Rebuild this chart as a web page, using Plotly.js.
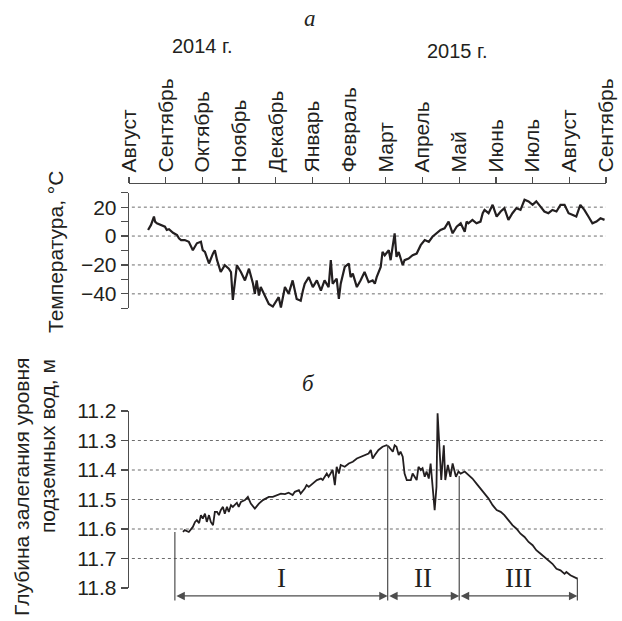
<!DOCTYPE html>
<html>
<head>
<meta charset="utf-8">
<script src="https://cdn.plot.ly/plotly-3.0.1.min.js"></script>
<style>html,body{margin:0;padding:0;background:#fff;}#chart{width:622px;height:621px;}</style>
</head>
<body>
<div id="chart"></div>
<script>
// ---- data ----
const monthLabels = ['Август','Сентябрь','Октябрь','Ноябрь','Декабрь','Январь','Февраль','Март','Апрель','Май','Июнь','Июль','Август','Сентябрь'];
const yearLabels = ['2014 г.', '2015 г.'];
const tempTickVals = [-50,-40,-30,-20,-10,0,10,20,30];
const tempTickText = ['','−40','','−20','','0','','20',''];
const tempGrid = [-40,-20,0,20];
const levelTickVals = [11.2,11.3,11.4,11.5,11.6,11.7,11.8];
const levelGrid = [11.3,11.4,11.5,11.6,11.7];

// time in months since 1 Aug 2014
const tempMonth = [0.52,0.60,0.68,0.71,0.76,0.87,0.98,1.03,1.09,1.20,1.31,1.36,1.42,1.52,1.63,1.74,1.85,1.96,2.01,2.07,
2.18,2.29,2.34,2.40,2.50,2.61,2.72,2.78,2.83,2.94,3.05,3.16,3.27,3.38,3.43,3.48,3.54,3.59,3.70,3.81,
3.92,4.03,4.08,4.14,4.25,4.35,4.46,4.57,4.68,4.74,4.79,4.90,5.01,5.12,5.23,5.33,5.44,5.50,5.55,5.66,
5.72,5.77,5.88,5.99,6.04,6.10,6.21,6.31,6.42,6.53,6.64,6.70,6.75,6.86,6.91,6.97,7.08,7.13,7.24,7.29,
7.35,7.46,7.51,7.62,7.73,7.84,7.95,8.06,8.17,8.27,8.38,8.49,8.60,8.71,8.82,8.93,9.04,9.15,9.20,9.25,
9.36,9.47,9.58,9.64,9.69,9.80,9.91,10.02,10.13,10.23,10.34,10.45,10.56,10.67,10.78,10.89,11.00,11.10,11.21,11.32,
11.43,11.54,11.65,11.76,11.87,11.98,12.08,12.19,12.30,12.41,12.52,12.63,12.74,12.85,12.96];
const tempValue = [4.2,7.7,13.5,10,8.8,7.7,6.5,4.2,4.7,2.3,0.7,-1.6,-2.8,-2.8,-4,-9.8,-5,-4,-9.8,-11,
-19,-12,-9.8,-16.7,-24.9,-20.2,-22.6,-24.9,-44.2,-20.2,-24.9,-30.7,-22.6,-33,-40,-30.7,-41.2,-35.3,-41.2,-47,
-48.8,-44.7,-42.3,-49.4,-35.3,-40,-30.7,-43.5,-44.7,-37.7,-33,-28.4,-35.3,-30.7,-37.7,-30.7,-35.3,-16.7,-33,-29.5,
-43.5,-33,-21.4,-19,-28.4,-26,-35.3,-30.7,-24.9,-31.9,-30.7,-33,-28.4,-21.4,-11,-13.3,-9.8,-16.7,1.9,-14.4,
-11,-20.2,-16.7,-15.6,-13.3,-12.1,-6.3,-2.8,-4,-0.5,1.9,4.2,5.3,10,1.9,6.5,8.8,3,10,8.8,
11.2,8.8,10,15.8,18.1,15.8,21.6,13.5,17,19.3,11.2,15.8,19.3,18.1,25.1,24,21.6,24,20.5,17,
15.8,18.1,17,21.6,21.6,15.8,14.7,13.5,21.6,18.1,13.5,8.8,10,12.3,11.2];

const levelMonth = [1.47,1.52,1.63,1.74,1.80,1.85,1.91,1.96,2.01,2.07,2.12,2.18,2.23,2.29,2.34,2.40,2.45,2.50,2.56,2.61,
2.67,2.72,2.78,2.83,2.94,2.99,3.05,3.16,3.24,3.32,3.43,3.54,3.65,3.81,3.92,4.03,4.14,4.25,4.35,4.46,
4.52,4.63,4.68,4.79,4.84,4.90,5.01,5.12,5.23,5.28,5.39,5.44,5.55,5.61,5.66,5.72,5.77,5.88,5.99,6.10,
6.21,6.31,6.42,6.53,6.59,6.64,6.70,6.80,6.91,7.02,7.08,7.19,7.24,7.29,7.35,7.40,7.46,7.51,7.57,7.68,
7.73,7.79,7.84,7.89,7.95,8.00,8.06,8.11,8.17,8.22,8.27,8.33,8.38,8.41,8.46,8.51,8.58,8.62,8.69,8.76,
8.82,8.91,8.98,9.04,9.15,9.25,9.36,9.47,9.58,9.69,9.80,9.91,10.02,10.13,10.23,10.34,10.45,10.56,10.67,10.78,
10.89,11.00,11.10,11.21,11.32,11.43,11.54,11.65,11.76,11.87,11.92,12.03,12.16,12.22];
const levelValue = [11.610,11.604,11.610,11.593,11.576,11.570,11.580,11.553,11.565,11.548,11.576,11.553,11.576,11.587,11.542,11.542,11.553,11.536,11.525,11.548,
11.525,11.542,11.519,11.525,11.511,11.525,11.508,11.502,11.491,11.514,11.531,11.514,11.502,11.491,11.491,11.485,11.480,11.482,11.477,11.485,
11.474,11.468,11.480,11.463,11.451,11.457,11.446,11.434,11.429,11.434,11.412,11.423,11.400,11.451,11.389,11.412,11.383,11.389,11.378,11.372,
11.361,11.355,11.349,11.344,11.332,11.361,11.349,11.332,11.321,11.316,11.321,11.338,11.316,11.321,11.349,11.338,11.355,11.412,11.434,11.434,
11.412,11.423,11.434,11.389,11.400,11.394,11.423,11.405,11.429,11.378,11.457,11.536,11.457,11.208,11.321,11.434,11.316,11.434,11.383,11.423,
11.378,11.423,11.405,11.412,11.405,11.417,11.429,11.446,11.463,11.480,11.497,11.519,11.536,11.542,11.553,11.570,11.587,11.599,11.616,11.627,
11.644,11.655,11.672,11.683,11.695,11.706,11.718,11.735,11.740,11.752,11.746,11.757,11.763,11.768];

// periods (bottom panel)
const periodBounds = [1.25, 7.05, 9.0, 12.22];
const periodTop = [11.61, 11.315, 11.42, 11.765];
const periodLabels = ['I','II','III'];

// ---- layout ----
const W = 622, H = 621;
const ink = '#231f20', axisCol = '#4d4d4d', gridCol = '#6d6d6d';
const sans = 'Liberation Sans, Arial, Helvetica, sans-serif';
const serif = 'Liberation Serif, Times New Roman, serif';
const xDom = [129/W, 606/W];
const topDom = [1-308.3/H, 1-192.7/H];
const botDom = [1-588/H, 1-411/H];

const traces = [
  {x: tempMonth, y: tempValue, xaxis:'x', yaxis:'y', type:'scatter', mode:'lines',
   line:{color:ink, width:2.2}, hoverinfo:'skip'},
  {x: levelMonth, y: levelValue, xaxis:'x2', yaxis:'y2', type:'scatter', mode:'lines',
   line:{color:ink, width:1.8}, hoverinfo:'skip'}
];

const shapes = [];
tempGrid.forEach(v => shapes.push({type:'line', xref:'x domain', yref:'y', x0:0.006, x1:1, y0:v, y1:v,
  line:{color:gridCol, width:1, dash:'dot'}, layer:'below'}));
levelGrid.forEach(v => shapes.push({type:'line', xref:'x2 domain', yref:'y2', x0:0.006, x1:1, y0:v, y1:v,
  line:{color:gridCol, width:1, dash:'dot'}, layer:'below'}));
periodBounds.forEach((b, i) => {
  shapes.push({type:'line', xref:'x2', yref:'y2', x0:b, x1:b, y0:periodTop[i], y1:11.8,
    line:{color:axisCol, width:1.2}});
  shapes.push({type:'line', xref:'x2', yref:'y2 domain', x0:b, x1:b, y0:0, y1:-0.07,
    line:{color:axisCol, width:1.2}});
});

const txt = (text, x, y, size, family, extra) => Object.assign({text, xref:'paper', yref:'paper',
  x:x/W, y:1-y/H, xanchor:'center', yanchor:'middle', showarrow:false,
  font:{family, size, color:ink}}, extra || {});

const annotations = [
  txt('<i>а</i>', 310, 18, 23, serif),
  txt('<i>б</i>', 308, 383, 23, serif),
  txt(yearLabels[0], 202, 46, 20, sans),
  txt(yearLabels[1], 457, 51, 20, sans),
  txt('Температура, °C', 55, 252, 21, sans, {textangle:-90}),
  txt('Глубина залегания уровня', 21, 487, 21, sans, {textangle:-90}),
  txt('подземных вод, м', 47, 446, 21, sans, {textangle:-90})
];
periodLabels.forEach((lab, i) => {
  const a = periodBounds[i], b = periodBounds[i+1];
  annotations.push({text:lab, xref:'x2', yref:'y2 domain', x:(a+b)/2, y:0.055, xanchor:'center', yanchor:'middle',
    showarrow:false, font:{family:serif, size:27, color:ink}});
  annotations.push({text:'', xref:'x2', yref:'y2 domain', axref:'x2', ayref:'y2 domain',
    x:b, y:-0.045, ax:a, ay:-0.045, showarrow:true, arrowside:'end+start', arrowhead:2,
    arrowsize:1.3, arrowwidth:1.3, arrowcolor:axisCol, standoff:0, startstandoff:0,
    font:{size:1}});
});

const layout = {
  width:W, height:H, margin:{l:0,r:0,t:0,b:0},
  paper_bgcolor:'#fff', plot_bgcolor:'rgba(0,0,0,0)', showlegend:false,
  font:{family:sans, color:ink},
  xaxis:{domain:xDom, range:[0,13], anchor:'free', position:1-182.7/H, side:'top',
    tickvals:monthLabels.map((_, i) => i), ticktext:monthLabels, tickangle:-90,
    ticks:'outside', ticklen:6, tickwidth:1.2, tickcolor:axisCol,
    showline:true, linecolor:axisCol, linewidth:1.3, showgrid:false, zeroline:false,
    tickfont:{family:sans, size:21, color:ink}, fixedrange:true},
  yaxis:{domain:topDom, range:[-50,30], anchor:'x', side:'left',
    tickvals:tempTickVals, ticktext:tempTickText,
    ticks:'outside', ticklen:7, tickwidth:1.2, tickcolor:axisCol,
    showline:true, linecolor:axisCol, linewidth:1.3, showgrid:false, zeroline:false,
    tickfont:{family:sans, size:21, color:ink}, fixedrange:true},
  xaxis2:{domain:xDom, range:[0,13], anchor:'y2', visible:false, fixedrange:true},
  yaxis2:{domain:botDom, range:[11.8,11.2], anchor:'x2', side:'left',
    tickvals:levelTickVals, ticktext:levelTickVals.map(v => v.toFixed(1)),
    ticks:'outside', ticklen:7, tickwidth:1.2, tickcolor:axisCol,
    showline:true, linecolor:axisCol, linewidth:1.3, showgrid:false, zeroline:false,
    tickfont:{family:sans, size:21, color:ink}, fixedrange:true},
  shapes:shapes, annotations:annotations
};

Plotly.newPlot('chart', traces, layout, {staticPlot:true});
</script>
</body>
</html>
